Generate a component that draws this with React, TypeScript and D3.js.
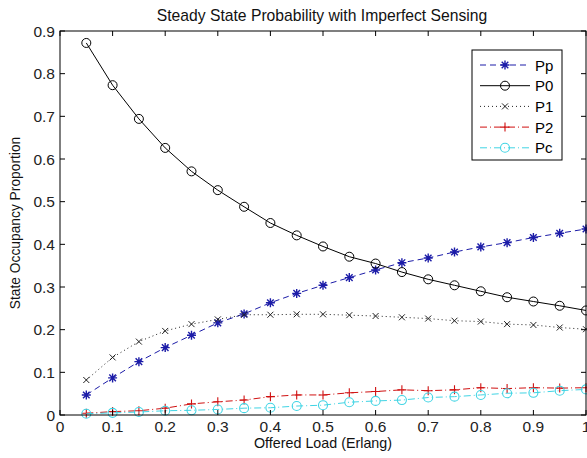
import React from 'react';
import * as d3 from 'd3';

// offered load (Erlang)
const loads = [0.05, 0.1, 0.15, 0.2, 0.25, 0.3, 0.35, 0.4, 0.45, 0.5, 0.55, 0.6, 0.65, 0.7, 0.75, 0.8, 0.85, 0.9, 0.95, 1.0];

const pp = [0.047, 0.087, 0.125, 0.158, 0.187, 0.216, 0.237, 0.263, 0.285, 0.304, 0.322, 0.340, 0.357, 0.368, 0.382, 0.394, 0.404, 0.416, 0.426, 0.436];
const p0 = [0.872, 0.773, 0.694, 0.626, 0.571, 0.527, 0.488, 0.450, 0.421, 0.395, 0.371, 0.355, 0.335, 0.318, 0.304, 0.290, 0.276, 0.266, 0.256, 0.245];
const p1 = [0.082, 0.135, 0.172, 0.197, 0.213, 0.224, 0.235, 0.235, 0.236, 0.236, 0.234, 0.232, 0.229, 0.226, 0.221, 0.219, 0.213, 0.211, 0.205, 0.201];
const p2 = [0.004, 0.008, 0.010, 0.016, 0.026, 0.031, 0.035, 0.043, 0.047, 0.047, 0.052, 0.055, 0.059, 0.057, 0.059, 0.064, 0.062, 0.064, 0.063, 0.064];
const pc = [0.003, 0.005, 0.007, 0.010, 0.011, 0.013, 0.016, 0.017, 0.021, 0.023, 0.030, 0.033, 0.035, 0.041, 0.043, 0.047, 0.051, 0.052, 0.057, 0.060];

const xTicks = [0, 0.1, 0.2, 0.3, 0.4, 0.5, 0.6, 0.7, 0.8, 0.9, 1];
const yTicks = [0, 0.1, 0.2, 0.3, 0.4, 0.5, 0.6, 0.7, 0.8, 0.9];

const W = 587;
const H = 458;
const m = { left: 60, right: 586, top: 31, bottom: 415 };

const x = d3.scaleLinear().domain([0, 1]).range([m.left, m.right]);
const y = d3.scaleLinear().domain([0, 0.9]).range([m.bottom, m.top]);

const font = '"Liberation Sans", Arial, sans-serif';

type Marker = 'star' | 'circle' | 'x' | 'plus';

function markerPath(kind: Marker, cx: number, cy: number) {
  const s = 4.5;
  if (kind === 'circle') {
    return `M${cx - 4.5},${cy}a4.5,4.5 0 1,0 9,0a4.5,4.5 0 1,0 -9,0`;
  }
  if (kind === 'x') {
    const t = 3;
    return `M${cx - t},${cy - t}L${cx + t},${cy + t}M${cx - t},${cy + t}L${cx + t},${cy - t}`;
  }
  if (kind === 'plus') {
    return `M${cx - s},${cy}L${cx + s},${cy}M${cx},${cy - s}L${cx},${cy + s}`;
  }
  const d = 3.3;
  return `M${cx - s},${cy}L${cx + s},${cy}M${cx},${cy - s}L${cx},${cy + s}` +
    `M${cx - d},${cy - d}L${cx + d},${cy + d}M${cx - d},${cy + d}L${cx + d},${cy - d}`;
}

const series = [
  { name: 'Pp', values: pp, color: '#1c1ca8', dash: '6,4', marker: 'star' as Marker, mw: 1.4 },
  { name: 'P0', values: p0, color: '#000000', dash: '', marker: 'circle' as Marker, mw: 1 },
  { name: 'P1', values: p1, color: '#222222', dash: '1,3', marker: 'x' as Marker, mw: 1 },
  { name: 'P2', values: p2, color: '#d01010', dash: '7,3,1,3', marker: 'plus' as Marker, mw: 1.1 },
  { name: 'Pc', values: pc, color: '#40d4e4', dash: '7,3,1,3', marker: 'circle' as Marker, mw: 1.1 },
];

export default function App() {
  const line = d3.line<number>()
    .x((_, i) => x(loads[i]))
    .y((d) => y(d));

  const lg = { x: 472, y: 50, w: 90, h: 110 };

  return (
    <div style={{ position: 'absolute', left: 0, top: 0 }}>
      <svg width={W} height={H} style={{ display: 'block', background: '#fff' }}>
        <text x={322} y={21} textAnchor="middle" fontFamily={font} fontSize={15.7} fill="#111">
          Steady State Probability with Imperfect Sensing
        </text>

        {series.map((s) => (
          <g key={s.name}>
            <path d={line(s.values) || ''} fill="none" stroke={s.color} strokeWidth={1}
              strokeDasharray={s.dash || undefined} />
            {s.values.map((v, i) => (
              <path key={i} d={markerPath(s.marker, x(loads[i]), y(v))} fill="none"
                stroke={s.color} strokeWidth={s.mw} />
            ))}
          </g>
        ))}

        {/* axes box */}
        <rect x={m.left} y={m.top} width={m.right - m.left} height={m.bottom - m.top}
          fill="none" stroke="#000" strokeWidth={1} />
        {xTicks.map((t) => (
          <g key={'x' + t}>
            <line x1={x(t)} x2={x(t)} y1={m.bottom} y2={m.bottom - 5} stroke="#000" />
            <line x1={x(t)} x2={x(t)} y1={m.top} y2={m.top + 5} stroke="#000" />
            <text x={x(t)} y={432} textAnchor="middle" fontFamily={font} fontSize={15.5} fill="#222">
              {d3.format('~g')(t)}
            </text>
          </g>
        ))}
        {yTicks.map((t) => (
          <g key={'y' + t}>
            <line x1={m.left} x2={m.left + 5} y1={y(t)} y2={y(t)} stroke="#000" />
            <line x1={m.right} x2={m.right - 5} y1={y(t)} y2={y(t)} stroke="#000" />
            <text x={55} y={y(t) + 5.5} textAnchor="end" fontFamily={font} fontSize={15.5} fill="#222">
              {d3.format('~g')(t)}
            </text>
          </g>
        ))}

        <text x={323} y={448} textAnchor="middle" fontFamily={font} fontSize={14.3} fill="#111">
          Offered Load (Erlang)
        </text>
        <text transform={`translate(20,${(m.top + m.bottom) / 2}) rotate(-90)`} textAnchor="middle"
          fontFamily={font} fontSize={13.8} fill="#111">
          State Occupancy Proportion
        </text>

        {/* legend */}
        <rect x={lg.x} y={lg.y} width={lg.w} height={lg.h} fill="#fff" stroke="#000" />
        {series.map((s, i) => {
          const ly = 65 + i * 20.7;
          return (
            <g key={'lg' + s.name}>
              <line x1={480} x2={530} y1={ly} y2={ly} stroke={s.color} strokeDasharray={s.dash || undefined} />
              <path d={markerPath(s.marker, 505, ly)} fill="none" stroke={s.color} strokeWidth={s.mw} />
              <text x={535} y={ly + 5.5} fontFamily={font} fontSize={15}>{s.name}</text>
            </g>
          );
        })}
      </svg>
    </div>
  );
}
